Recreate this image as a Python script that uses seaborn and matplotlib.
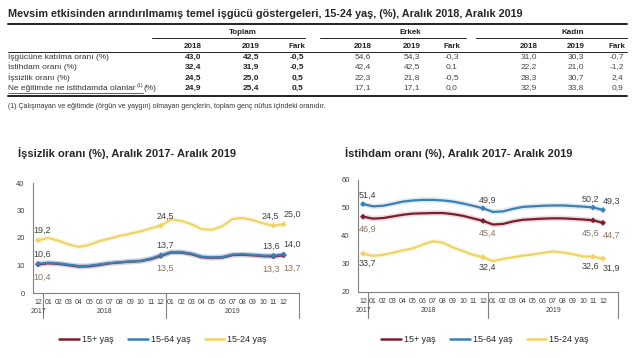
import numpy as np
import pandas as pd
import matplotlib
matplotlib.use("Agg")
import matplotlib.pyplot as plt
import matplotlib.patheffects as pe
import matplotlib.transforms as mtransforms
from matplotlib.lines import Line2D
import seaborn as sns

# Tablo verileri
satirlar = ["İşgücüne katılma oranı (%)", "İstihdam oranı (%)", "İşsizlik oranı (%)",
            "Ne eğitimde ne istihdamda olanlar"]
toplam_2018 = [43.0, 32.4, 24.5, 24.9]
toplam_2019 = [42.5, 31.9, 25.0, 25.4]
toplam_fark = [-0.5, -0.5, 0.5, 0.5]
erkek_2018 = [54.6, 42.4, 22.3, 17.1]
erkek_2019 = [54.3, 42.5, 21.8, 17.1]
erkek_fark = [-0.3, 0.1, -0.5, 0.0]
kadin_2018 = [31.0, 22.2, 28.3, 32.9]
kadin_2019 = [30.3, 21.0, 30.7, 33.8]
kadin_fark = [-0.7, -1.2, 2.4, 0.9]

# Grafik verileri (Aralık 2017 - Aralık 2019)
ay_etiketleri = ["12", "01", "02", "03", "04", "05", "06", "07", "08", "09", "10", "11", "12",
                 "01", "02", "03", "04", "05", "06", "07", "08", "09", "10", "11", "12"]
yillar = ["2017", "2018", "2019"]

issizlik_15 = [10.4, 10.8, 10.6, 10.1, 9.6, 9.7, 10.2, 10.8, 11.1, 11.4, 11.6, 12.3, 13.5,
               14.7, 14.7, 14.1, 13.0, 12.8, 12.9, 13.8, 13.9, 13.7, 13.4, 13.3, 13.7]
issizlik_1564 = [10.6, 11.0, 10.8, 10.3, 9.8, 9.9, 10.4, 10.9, 11.2, 11.5, 11.7, 12.5, 13.7,
                 14.9, 14.9, 14.3, 13.2, 12.9, 13.1, 14.0, 14.1, 13.9, 13.6, 13.6, 14.0]
issizlik_1524 = [19.2, 20.0, 19.0, 17.6, 16.8, 17.5, 18.9, 19.8, 20.8, 21.6, 22.4, 23.5, 24.5,
                 26.8, 26.2, 25.0, 23.2, 23.0, 24.3, 26.9, 27.3, 26.5, 25.3, 24.5, 25.0]

istihdam_15 = [46.9, 46.2, 46.4, 47.0, 47.6, 48.0, 48.1, 48.2, 48.2, 47.8, 47.2, 46.3, 45.4,
               44.1, 44.3, 45.2, 45.8, 46.0, 46.2, 46.3, 46.3, 46.1, 45.9, 45.6, 44.7]
istihdam_1564 = [51.4, 50.6, 50.8, 51.5, 52.3, 52.7, 52.9, 52.9, 52.7, 52.3, 51.6, 50.8, 49.9,
                 48.6, 48.8, 49.7, 50.4, 50.6, 50.8, 50.9, 50.9, 50.7, 50.5, 50.2, 49.3]
istihdam_1524 = [33.7, 32.9, 33.3, 34.0, 34.9, 35.6, 37.0, 38.1, 37.6, 35.9, 34.6, 33.3, 32.4,
                 31.0, 31.8, 32.4, 33.0, 33.4, 34.0, 34.5, 34.1, 33.5, 32.7, 32.6, 31.9]

gruplar = ["15+ yaş", "15-64 yaş", "15-24 yaş"]
renkler = {"15+ yaş": "#7f1d2d", "15-64 yaş": "#3a7fb5", "15-24 yaş": "#f0d463"}
isaretli = [0, 12, 23, 24]

sns.set_style("white")
plt.rcParams['font.family'] = ['Liberation Sans', 'DejaVu Sans']

W, H = 640, 358
fig = plt.figure(figsize=(6.4, 3.58), dpi=100)
renderer = fig.canvas.get_renderer()


def fx(x):
    return x / W


def fy(y):
    return 1 - y / H


def cizgi(x0, x1, y, lw):
    fig.add_artist(Line2D([fx(x0), fx(x1)], [fy(y), fy(y)], color="#222222", lw=lw))


def fmt(v):
    return f"{v:.1f}".replace(".", ",")


# --- Tablo ---
fig.text(fx(8), fy(14), "Mevsim etkisinden arındırılmamış temel işgücü göstergeleri, 15-24 yaş, (%), "
         "Aralık 2018, Aralık 2019", fontsize=7.8, fontweight="bold", va="center", ha="left")
cizgi(8, 627, 24, 1.4)
for ad, x0, x1, xc in [("Toplam", 152, 305, 243), ("Erkek", 320, 466, 410), ("Kadın", 476, 627, 573)]:
    fig.text(fx(xc), fy(32), ad, fontsize=5.8, fontweight="bold", ha="center", va="center", color="#222")
    cizgi(x0, x1, 38, 0.7)

sutun_x = [193, 251, 297, 363, 412, 452, 529, 576, 617]
for x, b in zip(sutun_x, ["2018", "2019", "Fark"] * 3):
    fig.text(fx(x), fy(46), b, fontsize=5.8, fontweight="bold", ha="center", va="center", color="#222")
cizgi(8, 627, 52, 0.7)

sutunlar = [toplam_2018, toplam_2019, toplam_fark, erkek_2018, erkek_2019, erkek_fark,
            kadin_2018, kadin_2019, kadin_fark]
satir_y = [57, 67, 78, 88]
for i, (ad, y) in enumerate(zip(satirlar, satir_y)):
    t = fig.text(fx(8), fy(y), ad, fontsize=6, ha="left", va="center", color="#333")
    if i == 3:
        bb = t.get_window_extent(renderer)
        fig.text(fx(bb.x1 + 1), fy(y - 2), "(1)", fontsize=3.8, ha="left", va="center", color="#333")
        fig.text(fx(bb.x1 + 8), fy(y), "(%)", fontsize=6, ha="left", va="center", color="#333")
        cizgi(8, bb.x1 + 7, 93, 0.5)
    for j, (x, sutun) in enumerate(zip(sutun_x, sutunlar)):
        fig.text(fx(x), fy(y), fmt(sutun[i]), fontsize=6, ha="center", va="center",
                 color="#222" if j < 3 else "#444", fontweight="bold" if j < 3 else "normal")
cizgi(8, 627, 96, 1.4)
fig.text(fx(8), fy(107), "(1) Çalışmayan ve eğitimde (örgün ve yaygın) olmayan gençlerin, toplam genç "
         "nüfus içindeki oranıdır.", fontsize=5, ha="left", va="center", color="#333")


# --- Grafikler ---
def grafik(ax, seriler, ylim, yticks, ofsetler):
    df = pd.DataFrame({
        "ay": list(range(len(ay_etiketleri))) * 3,
        "deger": seriler[0] + seriler[1] + seriler[2],
        "grup": np.repeat(gruplar, len(ay_etiketleri)),
    })
    sns.lineplot(data=df, x="ay", y="deger", hue="grup", hue_order=gruplar, palette=renkler,
                 ax=ax, legend=False, linewidth=1.6)
    for line, g in zip(ax.lines, gruplar):
        line.set_path_effects([pe.Stroke(linewidth=4, foreground=renkler[g], alpha=0.15), pe.Normal()])
    isa = df[df["ay"].isin(isaretli)]
    sns.scatterplot(data=isa, x="ay", y="deger", hue="grup", hue_order=gruplar, palette=renkler,
                    ax=ax, legend=False, marker="D", s=9, edgecolor="none", zorder=5)
    dxs = {0: 3, 12: 3, 23: -2, 24: 6}
    for g, seri in zip(gruplar, seriler):
        dy = ofsetler[g]
        renk = "#8a7262" if g == "15+ yaş" else "#404040"
        for i in isaretli:
            ax.annotate(fmt(seri[i]), (i, seri[i]), xytext=(dxs[i], dy), textcoords="offset points",
                        ha="center", va="center", fontsize=6.5, color=renk)
    ax.set_xlim(-0.5, 25.5)
    ax.set_ylim(*ylim)
    ax.set_yticks(yticks)
    ax.set_xticks(range(len(ay_etiketleri)))
    ax.set_xticklabels(ay_etiketleri)
    ax.tick_params(axis="x", length=0, pad=4, labelsize=5, colors="#404040")
    ax.tick_params(axis="y", length=3, width=0.6, pad=3, labelsize=5.5, color="#808080", labelcolor="#404040")
    ax.set_xlabel("")
    ax.set_ylabel("")
    for s in ["top", "right"]:
        ax.spines[s].set_visible(False)
    for s in ["left", "bottom"]:
        ax.spines[s].set_color("#808080")
        ax.spines[s].set_linewidth(0.8)
    tr = mtransforms.blended_transform_factory(ax.transData, ax.transAxes)
    for xs in [0.5, 12.5, 25.5]:
        ax.plot([xs, xs], [0, -0.23], transform=tr, clip_on=False, color="#808080", lw=0.8)
    for xp, yil in zip([0, 6.5, 19], yillar):
        ax.text(xp, -0.165, yil, transform=tr, ha="center", va="center", fontsize=5, color="#404040")


ax1 = fig.add_axes([fx(33), fy(293), (299 - 33) / W, (293 - 183) / H])
grafik(ax1, [issizlik_15, issizlik_1564, issizlik_1524], (0, 40), [0, 10, 20, 30, 40],
       {"15+ yaş": -9, "15-64 yaş": 7, "15-24 yaş": 7})
ax2 = fig.add_axes([fx(358), fy(292), (618 - 358) / W, (292 - 180) / H])
grafik(ax2, [istihdam_15, istihdam_1564, istihdam_1524], (20, 60), [20, 30, 40, 50, 60],
       {"15+ yaş": -9, "15-64 yaş": 6, "15-24 yaş": -7})

fig.text(fx(18), fy(153), "İşsizlik oranı (%), Aralık 2017- Aralık 2019", fontsize=8,
         fontweight="bold", ha="left", va="center")
fig.text(fx(345), fy(153), "İstihdam oranı (%), Aralık 2017- Aralık 2019", fontsize=8,
         fontweight="bold", ha="left", va="center")

handles = [Line2D([0], [0], color=renkler[g], lw=1.8) for g in gruplar]
for xc in [163, 485]:
    fig.legend(handles, gruplar, loc="center", bbox_to_anchor=(fx(xc), fy(340)), ncol=3, frameon=False,
               fontsize=6.5, handlelength=2.2, columnspacing=1.6, handletextpad=0.3)

fig.savefig("out.png", dpi=100)
